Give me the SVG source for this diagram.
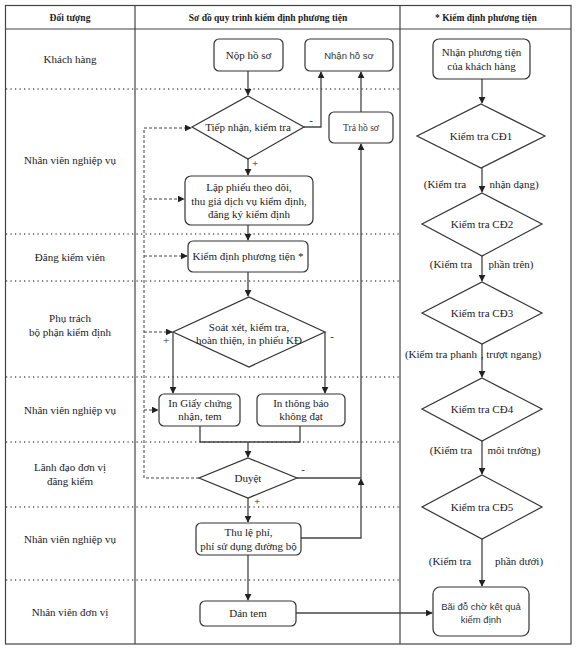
<svg xmlns="http://www.w3.org/2000/svg" width="577" height="655" viewBox="0 0 577 655">
<style>
.t{font-family:"Liberation Serif","Times New Roman",serif;font-size:11px;fill:#222;text-anchor:middle}
.h{font-family:"Liberation Serif","Times New Roman",serif;font-size:9.5px;font-weight:bold;fill:#222;text-anchor:middle}
.s{font-family:"Liberation Sans",Arial,sans-serif;font-size:9.5px;fill:#333;text-anchor:middle}
.sm{font-family:"Liberation Serif","Times New Roman",serif;font-size:9.5px;fill:#333;text-anchor:middle}
.box{fill:#fff;stroke:#333;stroke-width:1.2}
.dia{fill:#fff;stroke:#333;stroke-width:1.2}
.ln{fill:none;stroke:#444;stroke-width:1.3}
.dash{fill:none;stroke:#444;stroke-width:1;stroke-dasharray:3 2}
.dot{fill:none;stroke:#555;stroke-width:1.5;stroke-dasharray:1.2 3.3}
.grid{fill:none;stroke:#444;stroke-width:1.2}
</style>
<defs>
<marker id="ah" viewBox="0 0 10 10" refX="9" refY="5" markerWidth="7" markerHeight="7" markerUnits="userSpaceOnUse" orient="auto">
<path d="M0,0 L10,5 L0,10 z" fill="#222"/>
</marker>
</defs>
<rect width="577" height="655" fill="#fff"/>
<g id="table">
<rect x="5.5" y="5.5" width="565.5" height="638.5" class="grid"/>
<line x1="5.5" y1="29" x2="571" y2="29" class="grid"/>
<line x1="135" y1="5.5" x2="135" y2="644" class="grid"/>
<line x1="400" y1="5.5" x2="400" y2="644" class="grid"/>
<line x1="6" y1="89" x2="400" y2="89" class="dot"/>
<line x1="6" y1="234" x2="400" y2="234" class="dot"/>
<line x1="6" y1="281" x2="400" y2="281" class="dot"/>
<line x1="6" y1="377" x2="400" y2="377" class="dot"/>
<line x1="6" y1="442" x2="400" y2="442" class="dot"/>
<line x1="6" y1="507" x2="400" y2="507" class="dot"/>
<line x1="6" y1="580" x2="400" y2="580" class="dot"/>
<text class="h" x="70" y="21">Đối tượng</text>
<text class="h" x="268" y="21">Sơ đồ quy trình kiểm định phương tiện</text>
<text class="h" x="486" y="21">* Kiểm định phương tiện</text>
<text class="t" x="70" y="63">Khách hàng</text>
<text class="t" x="70" y="164">Nhân viên nghiệp vụ</text>
<text class="t" x="70" y="261">Đăng kiểm viên</text>
<text class="t" x="70" y="322">Phụ trách</text>
<text class="t" x="70" y="336">bộ phận kiểm định</text>
<text class="t" x="70" y="414">Nhân viên nghiệp vụ</text>
<text class="t" x="70" y="471">Lãnh đạo đơn vị</text>
<text class="t" x="70" y="485">đăng kiểm</text>
<text class="t" x="70" y="543">Nhân viên nghiệp vụ</text>
<text class="t" x="70" y="616">Nhân viên đơn vị</text>
</g>
<g id="connectors">
<line x1="248" y1="71" x2="248" y2="95" class="ln" marker-end="url(#ah)"/>
<path d="M304,127 H321 V72" class="ln" marker-end="url(#ah)"/>
<line x1="361" y1="112" x2="361" y2="72" class="ln" marker-end="url(#ah)"/>
<line x1="248" y1="159" x2="248" y2="175" class="ln" marker-end="url(#ah)"/>
<line x1="248" y1="225" x2="248" y2="240" class="ln" marker-end="url(#ah)"/>
<line x1="248" y1="272" x2="248" y2="296" class="ln" marker-end="url(#ah)"/>
<path d="M173,332 V393" class="ln" marker-end="url(#ah)"/>
<path d="M325,332 V393" class="ln" marker-end="url(#ah)"/>
<path d="M200,426 V442 H300 V426" class="ln"/>
<line x1="248" y1="442" x2="248" y2="457" class="ln" marker-end="url(#ah)"/>
<path d="M297,478 H361 V144" class="ln" marker-end="url(#ah)"/>
<path d="M301,538 H361 V479" class="ln" marker-end="url(#ah)"/>
<line x1="248" y1="498" x2="248" y2="522" class="ln" marker-end="url(#ah)"/>
<line x1="248" y1="555" x2="248" y2="600" class="ln" marker-end="url(#ah)"/>
<line x1="296" y1="613" x2="432" y2="613" class="ln" marker-end="url(#ah)"/>
<path d="M199,478 H144 V128 H191" class="dash" marker-end="url(#ah)"/>
<line x1="144" y1="199" x2="184" y2="199" class="dash" marker-end="url(#ah)"/>
<line x1="144" y1="256" x2="187" y2="256" class="dash" marker-end="url(#ah)"/>
<line x1="144" y1="332" x2="172" y2="332" class="dash" marker-end="url(#ah)"/>
<line x1="144" y1="410" x2="158" y2="410" class="dash" marker-end="url(#ah)"/>
<line x1="482" y1="79" x2="482" y2="103" class="ln" marker-end="url(#ah)"/>
<line x1="482" y1="168" x2="482" y2="192" class="ln" marker-end="url(#ah)"/>
<line x1="482" y1="256" x2="482" y2="281" class="ln" marker-end="url(#ah)"/>
<line x1="482" y1="344" x2="482" y2="377" class="ln" marker-end="url(#ah)"/>
<line x1="482" y1="441" x2="482" y2="474" class="ln" marker-end="url(#ah)"/>
<line x1="482" y1="539" x2="482" y2="586" class="ln" marker-end="url(#ah)"/>
<text class="t" x="311" y="124">-</text>
<text class="t" x="255" y="167">+</text>
<text class="t" x="166" y="344">+</text>
<text class="t" x="332" y="340">-</text>
<text class="t" x="303" y="473">-</text>
<text class="t" x="257" y="505">+</text>
<text class="t" x="445" y="188">(Kiểm tra</text>
<text class="t" x="514" y="188">nhận dạng)</text>
<text class="t" x="451" y="268">(Kiểm tra</text>
<text class="t" x="511" y="268">phần trên)</text>
<text class="t" x="441" y="358">(Kiểm tra phanh</text>
<text class="t" x="511" y="358">, trượt ngang)</text>
<text class="t" x="451" y="454">(Kiểm tra</text>
<text class="t" x="514" y="454">môi trường)</text>
<text class="t" x="450" y="565">(Kiểm tra</text>
<text class="t" x="519" y="565">phần dưới)</text>
</g>
<g id="nop-ho-so">
<rect x="214" y="39" width="69" height="32" rx="5" class="box"/>
<text class="t" x="248.5" y="59">Nộp hồ sơ</text>
</g>
<g id="nhan-ho-so">
<rect x="305" y="39" width="88" height="32" rx="5" class="box"/>
<text class="s" x="349" y="59">Nhận hồ sơ</text>
</g>
<g id="tiep-nhan">
<polygon points="248,96 304,127 248,159 192,127" class="dia"/>
<text class="t" x="248" y="131">Tiếp nhận, kiểm tra</text>
</g>
<g id="tra-ho-so">
<rect x="329" y="112" width="64" height="31" rx="5" class="box"/>
<text class="sm" x="361" y="131">Trả hồ sơ</text>
</g>
<g id="lap-phieu">
<rect x="185" y="176" width="128" height="49" rx="6" class="box"/>
<text class="t" x="249" y="191">Lập phiếu theo dõi,</text>
<text class="t" x="249" y="205">thu giá dịch vụ kiểm định,</text>
<text class="t" x="249" y="218">đăng ký kiểm định</text>
</g>
<g id="kiem-dinh">
<rect x="188" y="241" width="120" height="31" rx="5" class="box"/>
<text class="t" x="248" y="260">Kiểm định phương tiện *</text>
</g>
<g id="soat-xet">
<polygon points="249,297 325,332 249,367 173,332" class="dia"/>
<text class="t" x="249" y="331">Soát xét, kiểm tra,</text>
<text class="t" x="249" y="344">hoàn thiện, in phiếu KĐ</text>
</g>
<g id="in-giay">
<rect x="159" y="394" width="81" height="32" rx="5" class="box"/>
<text class="t" x="200" y="407">In Giấy chứng</text>
<text class="t" x="200" y="420">nhận, tem</text>
</g>
<g id="in-thong-bao">
<rect x="257" y="394" width="88" height="32" rx="5" class="box"/>
<text class="t" x="301" y="407">In thông báo</text>
<text class="t" x="301" y="420">không đạt</text>
</g>
<g id="duyet">
<polygon points="248,458 297,478 248,498 199,478" class="dia"/>
<text class="t" x="248" y="482">Duyệt</text>
</g>
<g id="thu-le-phi">
<rect x="196" y="523" width="105" height="32" rx="5" class="box"/>
<text class="t" x="248.5" y="536">Thu lệ phí,</text>
<text class="t" x="248.5" y="550">phí sử dụng đường bộ</text>
</g>
<g id="dan-tem">
<rect x="200" y="601" width="96" height="25" rx="5" class="box"/>
<text class="t" x="248" y="617">Dán tem</text>
</g>
<g id="nhan-phuong-tien">
<rect x="433" y="39" width="97" height="40" rx="6" class="box"/>
<text class="t" x="481.5" y="56">Nhận phương tiện</text>
<text class="t" x="481.5" y="70">của khách hàng</text>
</g>
<g id="cd1">
<polygon points="481,104 545,136 481,168 417,136" class="dia"/>
<text class="t" x="481" y="140">Kiểm tra CĐ1</text>
</g>
<g id="cd2">
<polygon points="482,193 542,224 482,256 422,224" class="dia"/>
<text class="t" x="482" y="228">Kiểm tra CĐ2</text>
</g>
<g id="cd3">
<polygon points="482,282 542,313 482,344 422,313" class="dia"/>
<text class="t" x="482" y="317">Kiểm tra CĐ3</text>
</g>
<g id="cd4">
<polygon points="482,378 542,409 482,441 422,409" class="dia"/>
<text class="t" x="482" y="413">Kiểm tra CĐ4</text>
</g>
<g id="cd5">
<polygon points="482,475 542,507 482,539 422,507" class="dia"/>
<text class="t" x="482" y="511">Kiểm tra CĐ5</text>
</g>
<g id="bai-do">
<rect x="433" y="587" width="96" height="49" rx="7" class="box"/>
<text class="s" x="481" y="610">Bãi đỗ chờ kết quả</text>
<text class="s" x="481" y="623">kiểm định</text>
</g>
</svg>
